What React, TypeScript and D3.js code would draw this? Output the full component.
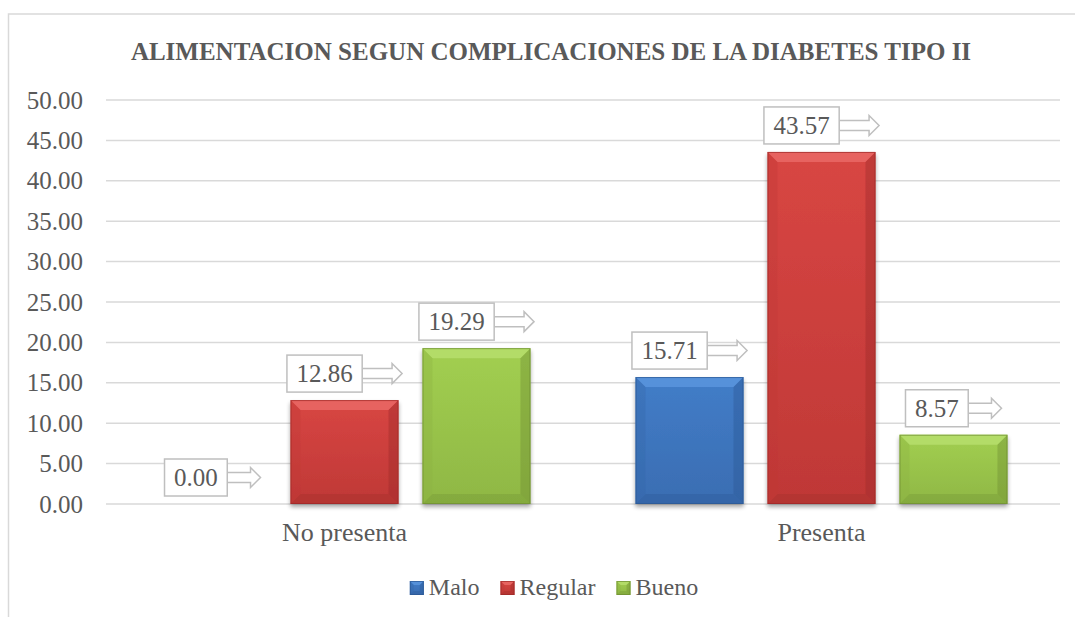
import React, { useEffect, useRef } from "react";
import * as d3 from "d3";

const categories = ["No presenta", "Presenta"];
const seriesNames = ["Malo", "Regular", "Bueno"];
const malo = [0.0, 15.71];
const regular = [12.86, 43.57];
const bueno = [19.29, 8.57];
const yTickValues = [0, 5, 10, 15, 20, 25, 30, 35, 40, 45, 50];
const title = "ALIMENTACION SEGUN COMPLICACIONES DE LA DIABETES TIPO II";

const W = 1075;
const H = 617;
const FONT = "'Liberation Serif', 'Times New Roman', serif";
const TXT = "#595959";
const GRID = "#d9d9d9";

const palettes: Record<string, { top: string; faceTop: string; faceBot: string; side: string; dark: string }> = {
  Malo: { top: "#5b95dd", faceTop: "#427dc8", faceBot: "#3a6db2", side: "#3568a9", dark: "#2b5793" },
  Regular: { top: "#ea6a66", faceTop: "#d84643", faceBot: "#bf3836", side: "#c03a37", dark: "#9c2a28" },
  Bueno: { top: "#b6de6c", faceTop: "#a2cf51", faceBot: "#8fb744", side: "#8db343", dark: "#6e8d32" },
};

export default function App() {
  const ref = useRef<SVGSVGElement | null>(null);

  useEffect(() => {
    const svg = d3.select(ref.current);
    svg.selectAll("*").remove();

    const defs = svg.append("defs");
    const f = defs.append("filter").attr("id", "shadow").attr("x", "-20%").attr("y", "-20%").attr("width", "140%").attr("height", "140%");
    f.append("feGaussianBlur").attr("in", "SourceAlpha").attr("stdDeviation", 2).attr("result", "b");
    f.append("feOffset").attr("in", "b").attr("dx", 0).attr("dy", 3).attr("result", "o");
    f.append("feComponentTransfer").attr("in", "o").attr("result", "o2")
      .append("feFuncA").attr("type", "linear").attr("slope", 0.35);
    const fm = f.append("feMerge");
    fm.append("feMergeNode").attr("in", "o2");
    fm.append("feMergeNode").attr("in", "SourceGraphic");

    seriesNames.forEach((s) => {
      const p = palettes[s];
      const g = defs.append("linearGradient").attr("id", "face-" + s).attr("x1", 0).attr("y1", 0).attr("x2", 0).attr("y2", 1);
      g.append("stop").attr("offset", "0%").attr("stop-color", p.faceTop);
      g.append("stop").attr("offset", "100%").attr("stop-color", p.faceBot);
    });

    // outer chart border (top + left visible)
    svg.append("rect").attr("x", 8.5).attr("y", 14).attr("width", W + 40).attr("height", H + 40)
      .attr("fill", "white").attr("stroke", GRID).attr("stroke-width", 1.5);

    // title
    svg.append("text").attr("x", 551).attr("y", 60).attr("text-anchor", "middle")
      .attr("font-family", FONT).attr("font-weight", "bold").attr("font-size", 25)
      .attr("fill", TXT).text(title);

    const x0 = d3.scaleBand<string>().domain(categories).range([106, 1060]).paddingInner(0).paddingOuter(0);
    const x1 = d3.scaleBand<string>().domain(seriesNames).range([0, x0.bandwidth()]).paddingInner(0.182).paddingOuter(0.398);
    const y = d3.scaleLinear().domain([0, 50]).range([504, 100]);

    // grid + y labels
    yTickValues.forEach((t) => {
      svg.append("line").attr("x1", 106).attr("x2", 1060).attr("y1", y(t)).attr("y2", y(t))
        .attr("stroke", GRID).attr("stroke-width", 1.5);
      svg.append("text").attr("x", 83).attr("y", y(t) + 8.5).attr("text-anchor", "end")
        .attr("font-family", FONT).attr("font-size", 25).attr("fill", TXT).text(d3.format(".2f")(t));
    });

    // category labels
    categories.forEach((c) => {
      svg.append("text").attr("x", (x0(c) as number) + x0.bandwidth() / 2).attr("y", 541)
        .attr("text-anchor", "middle").attr("font-family", FONT).attr("font-size", 26)
        .attr("fill", TXT).text(c);
    });

    const valuesBySeries: Record<string, number[]> = { Malo: malo, Regular: regular, Bueno: bueno };

    const drawBevel = (g: any, bx: number, by: number, bw: number, bh: number, s: string, bev: number) => {
      const p = palettes[s];
      const e = Math.min(bev, bh / 2, bw / 2);
      g.append("rect").attr("x", bx).attr("y", by).attr("width", bw).attr("height", bh).attr("fill", `url(#face-${s})`);
      const pts = (arr: number[][]) => arr.map((a) => a.join(",")).join(" ");
      // top
      g.append("polygon").attr("points", pts([[bx, by], [bx + bw, by], [bx + bw - e, by + e], [bx + e, by + e]])).attr("fill", p.top).attr("opacity", 0.85);
      // left
      g.append("polygon").attr("points", pts([[bx, by], [bx + e, by + e], [bx + e, by + bh - e], [bx, by + bh]])).attr("fill", p.side).attr("opacity", 0.35);
      // right
      g.append("polygon").attr("points", pts([[bx + bw, by], [bx + bw, by + bh], [bx + bw - e, by + bh - e], [bx + bw - e, by + e]])).attr("fill", p.dark).attr("opacity", 0.4);
      // bottom
      g.append("polygon").attr("points", pts([[bx, by + bh], [bx + e, by + bh - e], [bx + bw - e, by + bh - e], [bx + bw, by + bh]])).attr("fill", p.dark).attr("opacity", 0.3);
      g.append("rect").attr("x", bx + 0.5).attr("y", by + 0.5).attr("width", bw - 1).attr("height", bh - 1)
        .attr("fill", "none").attr("stroke", p.dark).attr("stroke-width", 1).attr("opacity", 0.7);
    };

    const barsG = svg.append("g");
    const labelsG = svg.append("g");

    categories.forEach((c, ci) => {
      seriesNames.forEach((s) => {
        const v = valuesBySeries[s][ci];
        const bx = (x0(c) as number) + (x1(s) as number);
        const bw = x1.bandwidth();
        const by = y(v);
        const bh = y(0) - y(v);
        if (bh > 0) {
          const g = barsG.append("g").attr("filter", "url(#shadow)");
          drawBevel(g, bx, by, bw, bh, s, 10);
        }

        // callout label
        const cx = bx + bw / 2;
        const lg = labelsG.append("g");
        const t = lg.append("text").attr("font-family", FONT).attr("font-size", 25).attr("fill", TXT)
          .attr("text-anchor", "middle").text(d3.format(".2f")(v));
        const tw = (t.node() as SVGTextElement).getComputedTextLength();
        const boxW = tw + 19;
        const boxH = 37;
        const arrowL = boxW * 0.53;
        const total = boxW + arrowL;
        const left = cx - total / 2;
        const boxBottom = by - 8;
        const boxTop = boxBottom - boxH;
        const my = boxTop + boxH / 2;
        const rx = left + boxW;
        const headL = 10;
        const shaftH = 10;
        const headH = 20;
        const tip = rx + arrowL;
        const arrowPts = [
          [rx, my - shaftH / 2], [tip - headL, my - shaftH / 2], [tip - headL, my - headH / 2], [tip, my],
          [tip - headL, my + headH / 2], [tip - headL, my + shaftH / 2], [rx, my + shaftH / 2],
        ];
        lg.insert("polygon", "text").attr("points", arrowPts.map((a) => a.join(",")).join(" "))
          .attr("fill", "white").attr("stroke", "#bfbfbf").attr("stroke-width", 1.5);
        lg.insert("rect", "text").attr("x", left).attr("y", boxTop).attr("width", boxW).attr("height", boxH)
          .attr("fill", "white").attr("stroke", "#bfbfbf").attr("stroke-width", 1.5);
        t.attr("x", left + boxW / 2).attr("y", my + 8.5);
      });
    });

    // legend
    const legG = svg.append("g");
    let cursor = 0;
    const items: { s: string; x: number; tw: number }[] = [];
    seriesNames.forEach((s, i) => {
      const t = legG.append("text").attr("font-family", FONT).attr("font-size", 24).attr("fill", TXT).text(s);
      const tw = (t.node() as SVGTextElement).getComputedTextLength();
      items.push({ s, x: cursor, tw });
      cursor += 14 + 5 + tw + (i < seriesNames.length - 1 ? 21 : 0);
    });
    const legLeft = 554 - cursor / 2;
    legG.selectAll("text").each(function (_d, i) {
      const it = items[i];
      d3.select(this).attr("x", legLeft + it.x + 19).attr("y", 595);
    });
    items.forEach((it) => {
      const g = legG.append("g");
      drawBevel(g, legLeft + it.x, 581, 14, 14, it.s, 4);
    });
  }, []);

  return (
    <svg ref={ref} width={W} height={H} style={{ position: "absolute", left: 0, top: 0, background: "white" }} />
  );
}
